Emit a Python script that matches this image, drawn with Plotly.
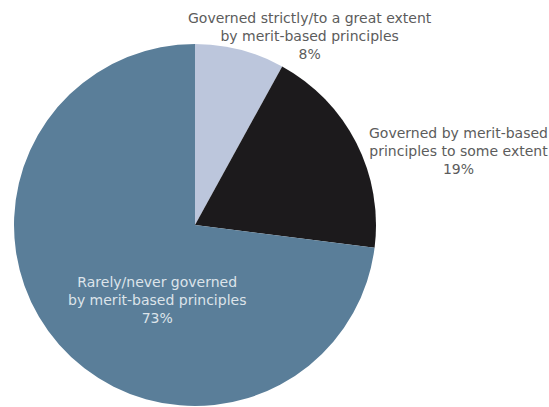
import plotly.graph_objects as go

# Share of decisions by how strongly merit-based principles govern them
categories = [
    "Governed strictly/to a great extent<br>by merit-based principles",
    "Governed by merit-based<br>principles to some extent",
    "Rarely/never governed<br>by merit-based principles",
]
shares = [8, 19, 73]
slice_colors = ["#bcc6dc", "#1c1a1c", "#5a7e99"]

W, H = 549, 407

fig = go.Figure(
    go.Pie(
        labels=categories,
        values=shares,
        sort=False,
        direction="clockwise",
        rotation=0,
        textinfo="none",
        hoverinfo="label+percent",
        marker=dict(colors=slice_colors, line=dict(width=0)),
        domain=dict(x=[14 / W, 376 / W], y=[1 - 406 / H, 1 - 44 / H]),
        showlegend=False,
    )
)

# Label placement (pixel centres) and text colour for each slice
label_pos = [(310, 36), (458, 151), (157, 300)]
label_colors = ["#5c5c5c", "#5c5c5c", "#dde4ea"]

for name, share, (px, py), col in zip(categories, shares, label_pos, label_colors):
    fig.add_annotation(
        text=f"{name}<br>{share}%",
        x=px / W,
        y=1 - py / H,
        xref="paper",
        yref="paper",
        xanchor="center",
        yanchor="middle",
        showarrow=False,
        align="center",
        font=dict(family="DejaVu Sans", size=14, color=col),
    )

fig.update_layout(
    width=W,
    height=H,
    margin=dict(l=0, r=0, t=0, b=0),
    paper_bgcolor="white",
    plot_bgcolor="white",
)

fig.write_html("out.html")
